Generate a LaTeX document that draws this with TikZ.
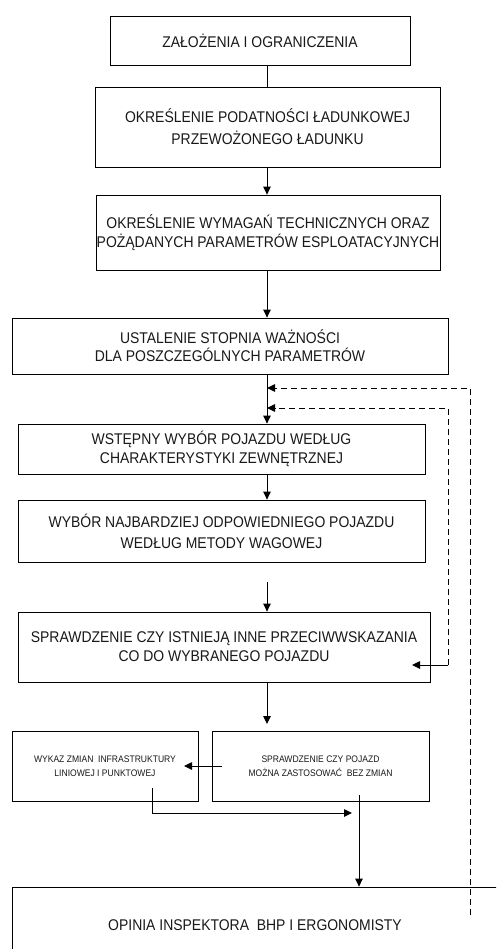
\documentclass[tikz,border=0pt]{standalone}
\usepackage{fontspec}
\setmainfont{Liberation Sans}[FakeStretch=0.9]
\usetikzlibrary{arrows.meta}
\begin{document}
\begin{tikzpicture}[x=1pt,y=-1pt,
  box/.style={draw=black,line width=0.8pt,inner sep=0pt,align=center,
    font=\fontsize{15.5}{19}\selectfont,text=black!90},
  smallbox/.style={box,font=\fontsize{9.5}{14}\selectfont},
  arr/.style={line width=0.9pt,-{Triangle[length=8pt,width=7.5pt]}},
  ln/.style={line width=0.9pt},
  dsh/.style={line width=0.9pt,dash pattern=on 6pt off 4pt}]
\useasboundingbox (0,0) rectangle (496,949);
\clip (0,0) rectangle (496,949);
\fill[white] (0,0) rectangle (496,949);

% main column
\coordinate (col) at (267,0);

\node[box,minimum width=300pt,minimum height=49pt] (b1) at (260,40.5)
  {ZAŁOŻENIA I OGRANICZENIA};
\node[box,minimum width=345pt,minimum height=80pt,font=\fontsize{15.5}{22}\selectfont] (b2) at (267.5,127)
  {OKREŚLENIE PODATNOŚCI ŁADUNKOWEJ\\PRZEWOŻONEGO ŁADUNKU};
\node[box,minimum width=344pt,minimum height=75pt] (b3) at (268,232.5)
  {OKREŚLENIE WYMAGAŃ TECHNICZNYCH ORAZ\\POŻĄDANYCH PARAMETRÓW ESPLOATACYJNYCH};
\node[box,minimum width=436pt,minimum height=56pt,font=\fontsize{15.5}{18}\selectfont] (b4) at (230,346)
  {USTALENIE STOPNIA WAŻNOŚCI\\DLA POSZCZEGÓLNYCH PARAMETRÓW};
\node[box,minimum width=407pt,minimum height=50pt,font=\fontsize{15.5}{18.5}\selectfont] (b5) at (221.5,449)
  {WSTĘPNY WYBÓR POJAZDU WEDŁUG\\CHARAKTERYSTYKI ZEWNĘTRZNEJ};
\node[box,minimum width=407pt,minimum height=62pt,font=\fontsize{15.5}{21}\selectfont] (b6) at (221.5,531)
  {WYBÓR NAJBARDZIEJ ODPOWIEDNIEGO POJAZDU\\WEDŁUG METODY WAGOWEJ};
\node[box,minimum width=412pt,minimum height=70pt] (b7) at (224,647)
  {SPRAWDZENIE CZY ISTNIEJĄ INNE PRZECIWWSKAZANIA\\CO DO WYBRANEGO POJAZDU};
\node[smallbox,minimum width=217pt,minimum height=70pt] (b8) at (320.5,766)
  {SPRAWDZENIE CZY POJAZD\\MOŻNA ZASTOSOWAĆ \ BEZ ZMIAN};
\node[smallbox,minimum width=186pt,minimum height=70pt] (b9) at (105,766)
  {WYKAZ ZMIAN \ INFRASTRUKTURY\\LINIOWEJ I PUNKTOWEJ};
\node[box,minimum width=486pt,minimum height=76pt] (b10) at (255,925)
  {OPINIA INSPEKTORA \ BHP I ERGONOMISTY};

% helper coordinates (free ends)
\coordinate (s67) at (267,582);
\coordinate (e78) at (267,724);
\coordinate (s89) at (222,766);
\coordinate (e89) at (184,766);
\coordinate (s9) at (152,788);
\coordinate (k9) at (152,813);
\coordinate (e9) at (352,813);
\coordinate (s8) at (359,795);
\coordinate (d1s) at (470,915);
\coordinate (d1k) at (470,388);
\coordinate (d2s) at (448,665);
\coordinate (d2k) at (448,408);
\coordinate (d2e) at (412,665);

% main flow
\draw[ln] (b1.south -| b2.north) -- (b2.north);
\draw[arr] (b2.south -| col) -- (b3.north -| col);
\draw[arr] (b3.south -| col) -- (b4.north -| col);
\draw[arr] (b4.south -| col) -- (b5.north -| col);
\draw[arr] (b5.south -| col) -- (b6.north -| col);
\draw[arr] (s67) -- (b7.north -| col);
\draw[arr] (b7.south -| col) -- (e78);
\draw[arr] (s89) -- (e89);
\draw[arr] (s9) -- (k9) -- (e9);
\draw[arr] (s8) -- (s8 |- b10.north);

% feedback loops
\draw[dsh,-{Triangle[length=8pt,width=7.5pt]}] (d1s) -- (d1k) -- (d1k -| col);
\draw[dsh,-{Triangle[length=8pt,width=7.5pt]}] (d2s) -- (d2k) -- (d2k -| col);
\draw[arr] (d2s) -- (d2e);
\end{tikzpicture}
\end{document}
